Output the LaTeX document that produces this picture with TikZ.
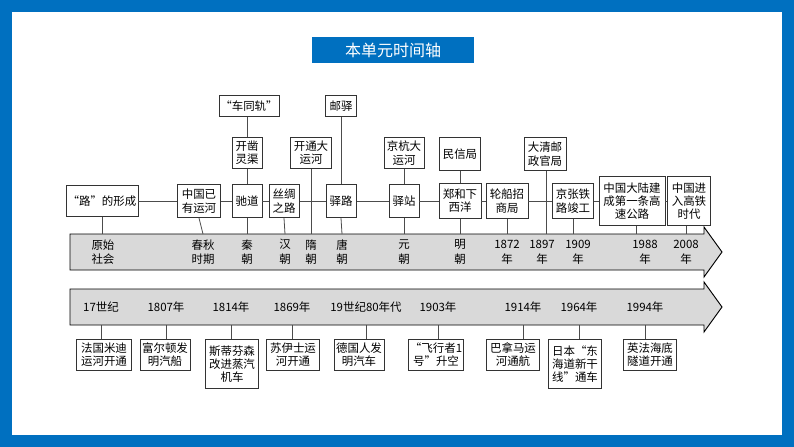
\documentclass[tikz,border=0pt]{standalone}
\usepackage{fontspec}
\newfontfamily\cjk{Noto Sans CJK SC}
\definecolor{frameblue}{RGB}{0,112,192}
\begin{document}
\begin{tikzpicture}[x=0.75pt,y=-0.75pt,
  bx/.style={draw=black!80,fill=white,font=\cjk\fontsize{8.6}{10}\selectfont,inner sep=1pt,align=center,line width=0.6pt},
  lb/.style={font=\cjk\fontsize{8.6}{11}\selectfont,align=center,inner sep=0pt},
  ln/.style={draw=black!70,line width=0.6pt},
  arr/.style={draw=black,fill=black!15,line width=0.7pt}]
\useasboundingbox (0,0) rectangle (794,447);
\fill[frameblue] (0,0) rectangle (794,447);
\fill[white] (12,12) rectangle (782,435);
\node[fill=frameblue,text=white,minimum width=121pt,minimum height=20pt,font=\cjk\fontsize{12}{14}\selectfont] (title) at (393,50) {本单元时间轴};
% arrows
\draw[arr] (70,234) -- (704,234) -- (704,227) -- (722,252) -- (704,277) -- (704,270) -- (70,270) -- cycle;
\draw[arr] (70,289) -- (704,289) -- (704,282) -- (722,307) -- (704,332) -- (704,325) -- (70,325) -- cycle;
% upper arrow coordinates
\foreach \n/\x in {a1/103,a2/203,a3/247,a4/285,a5/311,a6/342,a7/404,a8/460,a9/507,a10/546,a11/574,a12/636,a13/686}
  \coordinate (\n) at (\x,234);
\node[lb] at (103,252) {原始\\社会};
\node[lb] at (203,252) {春秋\\时期};
\node[lb] at (247,252) {秦\\朝};
\node[lb] at (285,252) {汉\\朝};
\node[lb] at (311,252) {隋\\朝};
\node[lb] at (342,252) {唐\\朝};
\node[lb] at (404,252) {元\\朝};
\node[lb] at (460,252) {明\\朝};
\node[lb] at (507,252) {1872\\年};
\node[lb] at (542,252) {1897\\年};
\node[lb] at (578,252) {1909\\年};
\node[lb] at (645,252) {1988\\年};
\node[lb] at (686,252) {2008\\年};
% middle boxes
\node[bx,minimum width=54pt,minimum height=23pt] (m1) at (102,201) {“路”的形成};
\node[bx,minimum width=32pt,minimum height=25pt] (m2) at (199,201) {中国已\\有运河};
\node[bx,minimum width=22.5pt,minimum height=25pt] (m3) at (247,201) {驰道};
\node[bx,minimum width=22.5pt,minimum height=25pt] (m4) at (284,201) {丝绸\\之路};
\node[bx,minimum width=22.5pt,minimum height=25pt] (m5) at (341,201) {驿路};
\node[bx,minimum width=22.5pt,minimum height=25pt] (m6) at (404,201) {驿站};
\node[bx,minimum width=31.5pt,minimum height=26pt] (m7) at (460,201) {郑和下\\西洋};
\node[bx,minimum width=31.5pt,minimum height=26pt] (m8) at (507,201) {轮船招\\商局};
\node[bx,minimum width=31pt,minimum height=26pt] (m9) at (573,201) {京张铁\\路竣工};
\node[bx,minimum width=49.5pt,minimum height=37pt] (m10) at (632,201) {中国大陆建\\成第一条高\\速公路};
\node[bx,minimum width=32pt,minimum height=37pt] (m11) at (689,201) {中国进\\入高铁\\时代};
% top boxes
\node[bx,minimum width=41pt,minimum height=16pt] (t1) at (249,106) {“车同轨”};
\node[bx,minimum width=22.5pt,minimum height=23pt] (t2) at (247,153) {开凿\\灵渠};
\node[bx,minimum width=31pt,minimum height=23pt] (t3) at (311,153) {开通大\\运河};
\node[bx,minimum width=23pt,minimum height=16pt] (t4) at (341,106) {邮驿};
\node[bx,minimum width=30pt,minimum height=23pt] (t5) at (404,153) {京杭大\\运河};
\node[bx,minimum width=31pt,minimum height=25pt] (t6) at (460,154) {民信局};
\node[bx,minimum width=31.5pt,minimum height=25pt] (t7) at (545,154) {大清邮\\政官局};
% connectors
\draw[ln] (m1) -- (m2) -- (m3) -- (m4) -- (m5) -- (m6) -- (m7) -- (m8) -- (m9) -- (m10) -- (m11);
\draw[ln] (m1.south) -- (m1.south |- a1);
\draw[ln] (m2.south) -- (a2);
\draw[ln] (m3.south) -- (a3);
\draw[ln] (m4.south) -- (a4);
\draw[ln] (m5.south) -- (a6);
\draw[ln] (m6.south) -- (a7);
\draw[ln] (m7.south) -- (a8);
\draw[ln] (m8.south) -- (a9);
\draw[ln] (m9.south) -- (m9.south |- a11);
\draw[ln] (m10.south -| a12) -- (a12);
\draw[ln] (m11.south -| a13) -- (a13);
\draw[ln] (t1.south -| t2) -- (t2.north);
\draw[ln] (t2.south) -- (m3.north);
\draw[ln] (t3.south) -- (a5);
\draw[ln] (t4.south) -- (m5.north);
\draw[ln] (t5.south) -- (m6.north);
\draw[ln] (t6.south) -- (m7.north);
\draw[ln] (t7.south -| a10) -- (a10);
% redraw boxes over crossing line
\node[bx,minimum width=22.5pt,minimum height=25pt] at (284,201) {丝绸\\之路};
\node[bx,minimum width=22.5pt,minimum height=25pt] at (341,201) {驿路};
% lower labels
\node[lb] at (101,307) {17世纪};
\node[lb] at (166,307) {1807年};
\node[lb] at (231,307) {1814年};
\node[lb] at (292,307) {1869年};
\node[lb] at (366,307) {19世纪80年代};
\node[lb] at (438,307) {1903年};
\node[lb] at (523,307) {1914年};
\node[lb] at (579,307) {1964年};
\node[lb] at (645,307) {1994年};
\foreach \n/\x in {b1/101,b2/166,b3/231,b4/292,b5/366,b6/438,b7/523,b8/579,b9/645}
  \coordinate (\n) at (\x,325);
\node[bx,anchor=north,minimum width=41pt,minimum height=23pt] (l1) at (104,339) {法国米迪\\运河开通};
\node[bx,anchor=north,minimum width=37.5pt,minimum height=23pt] (l2) at (165,339) {富尔顿发\\明汽船};
\node[bx,anchor=north,minimum width=40pt,minimum height=37pt] (l3) at (232,339) {斯蒂芬森\\改进蒸汽\\机车};
\node[bx,anchor=north,minimum width=40pt,minimum height=23pt] (l4) at (293,339) {苏伊士运\\河开通};
\node[bx,anchor=north,minimum width=37.5pt,minimum height=23pt] (l5) at (359,339) {德国人发\\明汽车};
\node[bx,anchor=north,minimum width=40pt,minimum height=23pt] (l6) at (436,339) {“飞行者1\\号”升空};
\node[bx,anchor=north,minimum width=40pt,minimum height=23pt] (l7) at (513,339) {巴拿马运\\河通航};
\node[bx,anchor=north,minimum width=40pt,minimum height=37pt] (l8) at (575,339) {日本“东\\海道新干\\线”通车};
\node[bx,anchor=north,minimum width=40pt,minimum height=23pt] (l9) at (650,339) {英法海底\\隧道开通};
\foreach \i in {1,...,9} \draw[ln] (b\i) -- (b\i |- l\i.north);
\end{tikzpicture}
\end{document}
